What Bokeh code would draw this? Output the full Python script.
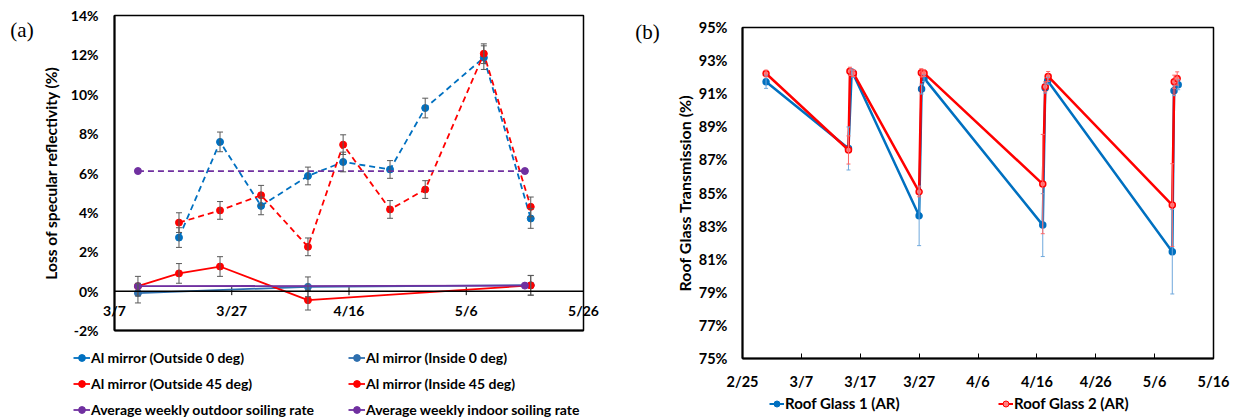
import numpy as np
import pandas as pd
from bokeh.plotting import figure
from bokeh.layouts import row, column
from bokeh.models import (ColumnDataSource, Whisker, TeeHead, Span, Legend, LegendItem,
                          FixedTicker, Label, Range1d, PrintfTickFormatter)
from bokeh.embed import file_html
from bokeh.resources import INLINE

YEAR = "2019"
FONT = "Lato"

# ---------------- (a) data ----------------
a_base = "3/7"
a_x_ticks = ["3/7", "3/27", "4/16", "5/6", "5/26"]
a_y_ticks = [-2, 0, 2, 4, 6, 8, 10, 12, 14]

out0_dates = ["3/18", "3/25", "4/1", "4/9", "4/15", "4/23", "4/29", "5/9", "5/17"]
out0_vals = [2.72, 7.58, 4.33, 5.85, 6.56, 6.18, 9.30, 11.86, 3.69]
out0_err = [0.50, 0.50, 0.45, 0.45, 0.50, 0.45, 0.50, 0.60, 0.50]

out45_dates = ["3/18", "3/25", "4/1", "4/9", "4/15", "4/23", "4/29", "5/9", "5/17"]
out45_vals = [3.48, 4.10, 4.87, 2.25, 7.44, 4.15, 5.16, 12.06, 4.28]
out45_err = [0.50, 0.45, 0.50, 0.45, 0.50, 0.45, 0.45, 0.50, 0.50]

in0_dates = ["3/11", "4/9", "5/17"]
in0_vals = [-0.10, 0.22, 0.30]
in0_err = [0.50, 0.50, 0.50]

in45_dates = ["3/11", "3/18", "3/25", "4/9", "5/17"]
in45_vals = [0.25, 0.90, 1.25, -0.46, 0.29]
in45_err = [0.50, 0.50, 0.50, 0.50, 0.50]

outdoor_avg_dates = ["3/11", "5/16"]
outdoor_avg_vals = [6.10, 6.10]
indoor_avg_dates = ["3/11", "5/16"]
indoor_avg_vals = [0.25, 0.28]

# ---------------- (b) data ----------------
b_base = "2/25"
b_x_ticks = ["2/25", "3/7", "3/17", "3/27", "4/6", "4/16", "4/26", "5/6", "5/16"]
b_y_ticks = [75, 77, 79, 81, 83, 85, 87, 89, 91, 93, 95]

glass1_times = ["3/1 00:00", "3/15 00:00", "3/15 13:00", "3/15 19:00", "3/27 00:00",
                "3/27 10:00", "3/27 20:00", "4/17 00:00", "4/17 10:00", "4/17 20:00",
                "5/9 00:00", "5/9 07:00", "5/10 00:00"]
glass1_vals = [91.72, 87.69, 92.30, 92.20, 83.62, 91.28, 91.94, 83.06, 91.34, 91.78,
               81.45, 91.18, 91.54]
glass1_err = [0.40, 1.30, 0.20, 0.20, 1.80, 0.30, 0.20, 1.90, 0.30, 0.20, 2.55, 0.30, 0.30]

glass2_times = ["3/1 00:00", "3/15 00:00", "3/15 06:00", "3/15 20:00", "3/27 00:00",
                "3/27 09:00", "3/27 20:00", "4/17 00:00", "4/17 10:00", "4/17 22:00",
                "5/9 00:00", "5/9 08:00", "5/9 20:00"]
glass2_vals = [92.22, 87.60, 92.35, 92.24, 85.07, 92.26, 92.24, 85.54, 91.42, 92.04,
               84.27, 91.72, 91.92]
glass2_err = [0.20, 0.85, 0.25, 0.20, 0.30, 0.25, 0.20, 3.00, 0.30, 0.30, 2.50, 0.40, 0.40]


def days(dates, base):
    t = pd.to_datetime([f"{YEAR}/{d}" for d in dates], format="mixed")
    b = pd.to_datetime(f"{YEAR}/{base}")
    return list((t - b) / pd.Timedelta(days=1))


def style_axes(p, size):
    for ax in (p.xaxis[0], p.yaxis[0]):
        ax.major_label_text_font = FONT
        ax.major_label_text_font_style = "bold"
        ax.major_label_text_font_size = size
        ax.major_label_text_color = "black"
        ax.axis_line_color = "black"
        ax.axis_line_width = 2
        ax.minor_tick_line_color = None
        ax.axis_label_text_font = FONT
        ax.axis_label_text_font_style = "bold"
        ax.axis_label_text_color = "black"
    p.xgrid.visible = False
    p.ygrid.visible = False


def blank(width, height):
    f = figure(width=width, height=height, output_backend="svg", toolbar_location=None,
               x_axis_type=None, y_axis_type=None, x_range=Range1d(0, 1), y_range=Range1d(0, 1),
               min_border=0)
    f.outline_line_color = None
    return f


ERR_C = "#595959"
BLUE = "#0070C0"
BLUE2 = "#2E6FAE"
RED = "#FF0000"
PURPLE = "#7030A0"


def add_err(p, xs, ys, es, color, head=6, width=1.0):
    src = ColumnDataSource(dict(x=xs, lo=[y - e for y, e in zip(ys, es)],
                                hi=[y + e for y, e in zip(ys, es)]))
    w = Whisker(source=src, base="x", lower="lo", upper="hi", dimension="height",
                line_color=color, line_width=width,
                upper_head=TeeHead(size=head, line_color=color, line_width=width),
                lower_head=TeeHead(size=head, line_color=color, line_width=width),
                level="glyph")
    p.add_layout(w)


def make_legend(items, loc, size, orientation="vertical", spacing=9, glyph_width=17):
    return Legend(items=items, location=loc, orientation=orientation,
                  label_text_font=FONT, label_text_font_style="bold",
                  label_text_font_size=size, label_text_color="black",
                  glyph_width=glyph_width, glyph_height=17, label_standoff=1, spacing=spacing,
                  padding=0, margin=0, border_line_color=None, background_fill_alpha=0,
                  label_height=17)


# ================= figure (a) =================
pa = figure(width=582, height=340, output_backend="svg", toolbar_location=None,
            x_range=Range1d(0, 80), y_range=Range1d(-2, 14),
            min_border_left=76, min_border_right=37, min_border_top=15, min_border_bottom=10)
pa.outline_line_color = "black"
pa.outline_line_width = 1.5
style_axes(pa, "14px")
pa.yaxis.ticker = FixedTicker(ticks=a_y_ticks)
pa.yaxis.formatter = PrintfTickFormatter(format="%d%%")
pa.yaxis.major_tick_in = 0
pa.yaxis.major_tick_out = 0
pa.yaxis.major_label_standoff = 16
pa.yaxis.axis_label = "Loss of specular reflectivity (%)"
pa.yaxis.axis_label_text_font_size = "15.5px"
pa.yaxis.axis_label_standoff = 8

a_tick_pos = days(a_x_ticks, a_base)
pa.xaxis.ticker = FixedTicker(ticks=a_tick_pos)
pa.xaxis.major_label_overrides = {float(v): s for v, s in zip(a_tick_pos, a_x_ticks)}
pa.xaxis.major_tick_in = 0
pa.xaxis.major_tick_out = 0
pa.xaxis.major_label_standoff = -29

pa.add_layout(Span(location=0, dimension="width", line_color="black", line_width=1.5))
pa.scatter(x=a_tick_pos, y=[0] * len(a_tick_pos), marker="dash", angle=np.pi / 2,
           size=8, line_color="black", line_width=1)

a_series = [
    ("Al mirror (Outside 0 deg)", out0_dates, out0_vals, out0_err, BLUE, "6 4"),
    ("Al mirror (Inside 0 deg)", in0_dates, in0_vals, in0_err, BLUE2, "solid"),
    ("Al mirror (Outside 45 deg)", out45_dates, out45_vals, out45_err, RED, "6 4"),
    ("Al mirror (Inside 45 deg)", in45_dates, in45_vals, in45_err, RED, "solid"),
    ("Average weekly outdoor soiling rate", outdoor_avg_dates, outdoor_avg_vals, None, PURPLE, "6 4"),
    ("Average weekly indoor soiling rate", indoor_avg_dates, indoor_avg_vals, None, PURPLE, "solid"),
]

# legend-only figure under (a)
la = blank(620, 78)
legend_items = []
for name, d, v, e, c, dash in a_series:
    xs = days(d, a_base)
    if e is not None:
        add_err(pa, xs, v, e, ERR_C)
    pa.line(xs, v, line_color=c, line_width=1.8, line_dash=dash)
    pa.scatter(xs, v, marker="circle", size=7, fill_color=c, line_color=c)
    proxy = ColumnDataSource(dict(x=[np.nan], y=[np.nan]))
    r1 = la.line("x", "y", source=proxy, line_color=c, line_width=1.8)
    r2 = la.scatter("x", "y", source=proxy, marker="circle", size=6, fill_color=c, line_color=c)
    legend_items.append(LegendItem(label=name, renderers=[r1, r2]))

la.add_layout(make_legend([legend_items[0], legend_items[2], legend_items[4]], (73, 0), "14px"))
la.add_layout(make_legend([legend_items[1], legend_items[3], legend_items[5]], (348, 0), "14px"))

ta = blank(38, 340)
ta.add_layout(Label(x=21.5, y=301, x_units="screen", y_units="screen", text="(a)",
                    text_font="Liberation Serif", text_font_size="21px",
                    text_align="center", text_baseline="middle", text_color="black"))

# ================= figure (b) =================
pb = figure(width=572, height=392, output_backend="svg", toolbar_location=None,
            x_range=Range1d(0, 80), y_range=Range1d(75, 95),
            min_border_left=72, min_border_right=29, min_border_top=27, min_border_bottom=34)
pb.outline_line_color = "black"
pb.outline_line_width = 1.5
style_axes(pb, "14.5px")
pb.yaxis.ticker = FixedTicker(ticks=b_y_ticks)
pb.yaxis.formatter = PrintfTickFormatter(format="%d%%")
pb.yaxis.major_tick_in = 0
pb.yaxis.major_tick_out = 0
pb.yaxis.major_label_standoff = 15
pb.yaxis.axis_label = "Roof Glass Transmission (%)"
pb.yaxis.axis_label_text_font_size = "16px"
pb.yaxis.axis_label_standoff = 2

b_tick_pos = days(b_x_ticks, b_base)
pb.xaxis.ticker = FixedTicker(ticks=b_tick_pos)
pb.xaxis.major_label_overrides = {float(v): s for v, s in zip(b_tick_pos, b_x_ticks)}
pb.xaxis.major_tick_in = 5
pb.xaxis.major_tick_out = 0
pb.xaxis.major_tick_line_color = "black"
pb.xaxis.major_tick_line_width = 1
pb.xaxis.major_label_standoff = 14

lb = blank(572, 26)
b_series = [
    ("Roof Glass 1 (AR)", glass1_times, glass1_vals, glass1_err, BLUE, "#6FA8DC", BLUE),
    ("Roof Glass 2 (AR)", glass2_times, glass2_vals, glass2_err, RED, "#FF6666", "#FF8080"),
]
b_items = []
for name, d, v, e, c, ec, fill in b_series:
    xs = days(d, b_base)
    add_err(pb, xs, v, e, ec, head=4, width=1.0)
    pb.line(xs, v, line_color=c, line_width=2.5)
    pb.scatter(xs, v, marker="circle", size=6, fill_color=fill, line_color=c, line_width=1.5)
    proxy = ColumnDataSource(dict(x=[np.nan], y=[np.nan]))
    r1 = lb.line("x", "y", source=proxy, line_color=c, line_width=2)
    r2 = lb.scatter("x", "y", source=proxy, marker="circle", size=5, fill_color=fill, line_color=c)
    b_items.append(LegendItem(label=name, renderers=[r1, r2]))

# lb's frame is aligned with pb's frame in the column
lb.add_layout(make_legend([b_items[0]], (27, 6), "15px", "horizontal", 0, 15))
lb.add_layout(make_legend([b_items[1]], (256, 6), "15px", "horizontal", 0, 15))

tb = blank(50, 418)
tb.add_layout(Label(x=27, y=387, x_units="screen", y_units="screen", text="(b)",
                    text_font="Liberation Serif", text_font_size="21px",
                    text_align="center", text_baseline="middle", text_color="black"))

layout = row(column(row(ta, pa), la), row(tb, column(pb, lb)))
open("out.html", "w").write(file_html(layout, INLINE))
